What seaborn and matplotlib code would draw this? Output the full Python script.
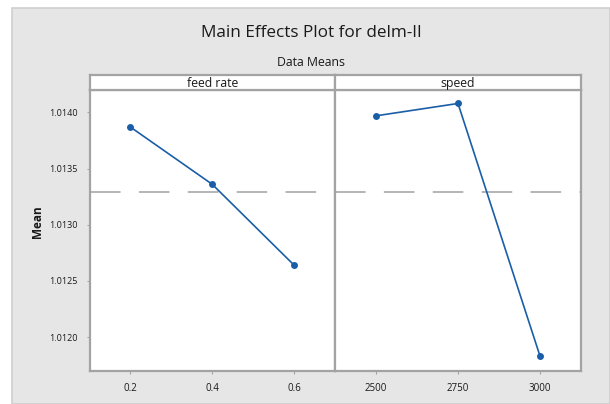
import matplotlib
matplotlib.use("Agg")
import matplotlib.pyplot as plt
from matplotlib.patches import Rectangle
import numpy as np
import pandas as pd
import seaborn as sns

# Factor levels and the mean response at each level
feed_levels = [0.2, 0.4, 0.6]
feed_means = [1.01387, 1.01336, 1.01264]
speed_levels = [2500, 2750, 3000]
speed_means = [1.01397, 1.01408, 1.01183]

factor_names = ["feed rate", "speed"]
y_ticks = [1.0120, 1.0125, 1.0130, 1.0135, 1.0140]
y_tick_labels = ["1.0120", "1.0125", "1.0130", "1.0135", "1.0140"]

grand_mean = float(np.mean(feed_means + speed_means))

sns.set_theme(style="white")
plt.rcParams["font.family"] = ["Open Sans", "DejaVu Sans"]

W, H = 610, 404
fig = plt.figure(figsize=(W / 100, H / 100), dpi=100)
fig.patch.set_facecolor("white")

# Gray panel behind everything
fig.patches.append(Rectangle((12 / W, 0), (W - 12) / W, (H - 8) / H,
                             transform=fig.transFigure, facecolor="#e6e6e6",
                             edgecolor="#cfcfcf", linewidth=1.2, zorder=-10))

text_color = "#1a1a1a"
fig.text(311 / W, 1 - 33 / H, "Main Effects Plot for delm-II",
         ha="center", va="center", fontsize=12.3, color=text_color)
fig.text(311 / W, 1 - 63 / H, "Data Means",
         ha="center", va="center", fontsize=8.8, color=text_color)
fig.text(37 / W, 1 - 222 / H, "Mean", rotation=90, ha="center", va="center",
         fontsize=8.5, fontweight="bold", color=text_color)

left_px, mid_px, right_px = 89.5, 335, 581
top_px, bot_px, strip_top_px = 90, 370.7, 75
ax_bottom = 1 - bot_px / H
ax_height = (bot_px - top_px) / H

frames = [
    pd.DataFrame({"level": feed_levels, "mean": feed_means}),
    pd.DataFrame({"level": speed_levels, "mean": speed_means}),
]
xlims = [(0.1, 0.7), (2375, 3125)]
tick_labels = [["0.2", "0.4", "0.6"], ["2500", "2750", "3000"]]
edges = [(left_px, mid_px), (mid_px, right_px)]

line_color = "#1a5ea8"
spine_color = "#a3a3a3"

for i, (df, (x0, x1)) in enumerate(zip(frames, edges)):
    ax = fig.add_axes([x0 / W, ax_bottom, (x1 - x0) / W, ax_height])
    ax.set_facecolor("white")
    sns.lineplot(data=df, x="level", y="mean", ax=ax, color=line_color,
                 marker="o", markersize=5, markeredgewidth=0, linewidth=1.2,
                 zorder=3)
    ax.axhline(grand_mean, color="#a0a0a0", linewidth=1.1,
               linestyle=(0, (20, 12)), zorder=2)
    ax.set_xlim(*xlims[i])
    ax.set_ylim(1.01170, 1.01420)
    ax.set_xticks(df["level"].tolist())
    ax.set_xticklabels(tick_labels[i])
    ax.set_xlabel("")
    ax.set_ylabel("")
    for s in ax.spines.values():
        s.set_color(spine_color)
        s.set_linewidth(1.6)
    ax.tick_params(axis="both", direction="out", length=2.5, width=0.8,
                   color=spine_color, labelsize=7, pad=6,
                   labelcolor=text_color)
    ax.tick_params(axis="x", bottom=True)
    ax.set_yticks(y_ticks)
    if i == 0:
        ax.set_yticklabels(y_tick_labels)
        ax.tick_params(axis="y", left=True, labelsize=6.5)
    else:
        ax.tick_params(axis="y", left=False, labelleft=False)

    # Factor name header above each panel
    sax = fig.add_axes([x0 / W, 1 - top_px / H, (x1 - x0) / W,
                        (top_px - strip_top_px) / H])
    sax.set_facecolor("white")
    sax.set_xticks([])
    sax.set_yticks([])
    for s in sax.spines.values():
        s.set_color(spine_color)
        s.set_linewidth(1.6)
    sax.text(0.5, 0.45, factor_names[i], ha="center", va="center",
             fontsize=8.8, color=text_color, transform=sax.transAxes)

fig.savefig("out.png", dpi=100, facecolor=fig.get_facecolor())
